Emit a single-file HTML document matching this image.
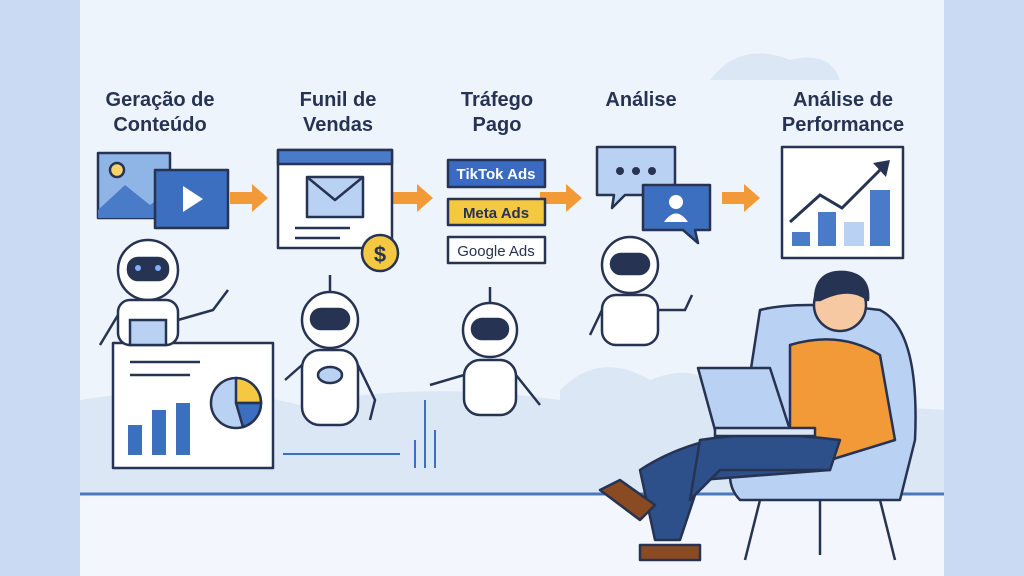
<!DOCTYPE html>
<html><head><meta charset="utf-8"><style>
html,body{margin:0;padding:0;width:1024px;height:576px;overflow:hidden;background:#eef4fc}
svg{display:block}
text{font-family:"Liberation Sans",sans-serif;font-weight:bold;fill:#263352}
</style></head><body>
<svg width="1024" height="576" viewBox="0 0 1024 576" xmlns="http://www.w3.org/2000/svg">
<rect width="1024" height="576" fill="#eef4fc"/>
<rect x="0" y="0" width="80" height="576" fill="#c9daf2"/>
<rect x="944" y="0" width="80" height="576" fill="#c9daf2"/>
<!-- clouds/background -->
<path d="M80 400 Q200 380 300 405 Q420 380 560 400 L560 493 L80 493Z" fill="#dce7f6"/>
<path d="M560 390 Q600 350 650 380 Q700 360 720 395 L944 410 L944 493 L560 493Z" fill="#dce7f6"/>
<path d="M710 80 Q740 40 790 60 Q830 50 840 80Z" fill="#dce7f6"/>
<rect x="80" y="493" width="864" height="83" fill="#f3f7fd"/>
<line x1="80" y1="494" x2="944" y2="494" stroke="#4a78c0" stroke-width="3"/>
<!-- titles -->
<g font-size="20" text-anchor="middle">
<text x="160" y="106">Geração de</text><text x="160" y="131">Conteúdo</text>
<text x="338" y="106">Funil de</text><text x="338" y="131">Vendas</text>
<text x="497" y="106">Tráfego</text><text x="497" y="131">Pago</text>
<text x="641" y="106">Análise</text>
<text x="843" y="106">Análise de</text><text x="843" y="131">Performance</text>
</g>
<!-- arrows -->
<g fill="#f29a38">
<path d="M230 192 H252 V184 L268 198 L252 212 V204 H230Z"/>
<path d="M393 192 H417 V184 L433 198 L417 212 V204 H393Z"/>
<path d="M540 192 H566 V184 L582 198 L566 212 V204 H540Z"/>
<path d="M722 192 H744 V184 L760 198 L744 212 V204 H722Z"/>
</g>
<g stroke="#263352" stroke-width="2.5" stroke-linejoin="round">
<!-- image icon -->
<rect x="98" y="153" width="72" height="65" fill="#8fb4e6"/>
<circle cx="117" cy="170" r="7" fill="#f5d36a"/>
<path d="M98 210 L125 185 L150 205 L170 190 V218 H98Z" fill="#4a7bc8" stroke="none"/>
<rect x="155" y="170" width="73" height="58" fill="#3d6fc0"/>
<path d="M183 186 L203 199 L183 212Z" fill="#fff" stroke="none"/>
<!-- browser -->
<rect x="278" y="150" width="114" height="98" fill="#fff"/>
<rect x="278" y="150" width="114" height="14" fill="#4a7bc8"/>
<rect x="307" y="177" width="56" height="40" fill="#b9d1f2"/>
<path d="M307 177 L335 200 L363 177" fill="none"/>
<line x1="295" y1="228" x2="350" y2="228"/><line x1="295" y1="238" x2="340" y2="238"/>
<circle cx="380" cy="253" r="18" fill="#f5c842"/>
<!-- ads -->
<rect x="448" y="160" width="97" height="27" fill="#3a6bc0"/>
<rect x="448" y="199" width="97" height="26" fill="#f5c842"/>
<rect x="448" y="237" width="97" height="26" fill="#fff"/>
<!-- chat -->
<path d="M597 147 H675 V195 H625 L612 208 L614 195 H597Z" fill="#b9d1f2"/>
<path d="M643 185 H710 V230 H695 L698 243 L683 230 H643Z" fill="#3d6fc0"/>
<!-- chart -->
<rect x="782" y="147" width="121" height="111" fill="#fff"/>
<!-- board -->
<rect x="113" y="343" width="160" height="125" fill="#fff"/>
<circle cx="236" cy="403" r="25" fill="#b9d1f2"/>
<path d="M236 403 V378 A25 25 0 0 1 261 403Z" fill="#f5c842"/>
<path d="M236 403 H261 A25 25 0 0 1 243 427Z" fill="#3d6fc0"/>
<!-- chair -->
<path d="M760 310 Q800 300 880 310 Q920 330 915 440 L900 500 H740 Q720 480 740 440Z" fill="#b9d1f2"/>
<line x1="760" y1="500" x2="745" y2="560"/><line x1="880" y1="500" x2="895" y2="560"/><line x1="820" y1="500" x2="820" y2="555"/>
<!-- person -->
<path d="M790 345 Q840 330 880 355 L895 440 L830 460 L790 440Z" fill="#f29a38"/>
<circle cx="840" cy="305" r="26" fill="#f7c9a2"/>
<path d="M815 300 Q815 270 845 272 Q870 275 868 300 Q850 285 820 300Z" fill="#263352"/>
<path d="M640 470 Q700 430 800 430 L830 470 L700 480 L680 540 L655 540Z" fill="#2d4f8a"/>
<path d="M700 440 Q760 430 840 440 L830 470 L720 470 L690 500 Z" fill="#2d4f8a"/>
<path d="M620 480 L655 505 L640 520 L600 490Z" fill="#8a4a22"/>
<path d="M640 545 H700 V560 H640Z" fill="#8a4a22"/>
<path d="M698 368 H770 L790 430 H715Z" fill="#b9d1f2"/>
<rect x="715" y="428" width="100" height="8" fill="#dce7f6"/>
</g>
<!-- chart bars -->
<g fill="#4a7bc8"><rect x="792" y="232" width="18" height="14"/><rect x="818" y="212" width="18" height="34"/><rect x="870" y="190" width="20" height="56"/></g>
<rect x="844" y="222" width="20" height="24" fill="#b9d1f2"/>
<path d="M790 222 L820 195 L842 208 L885 165" fill="none" stroke="#263352" stroke-width="3"/>
<path d="M873 163 L890 160 L886 177Z" fill="#263352"/>
<!-- board bars -->
<g fill="#3d6fc0"><rect x="128" y="425" width="14" height="30"/><rect x="152" y="410" width="14" height="45"/><rect x="176" y="403" width="14" height="52"/></g>
<g stroke="#263352" stroke-width="2.5"><line x1="130" y1="362" x2="200" y2="362"/><line x1="130" y1="375" x2="190" y2="375"/></g>
<!-- text in ads -->
<g font-size="15" font-weight="normal" text-anchor="middle">
<text x="496" y="179" style="fill:#fff">TikTok Ads</text>
<text x="496" y="218">Meta Ads</text>
<text x="496" y="256" style="font-weight:normal">Google Ads</text>
</g>
<text x="380" y="262" font-size="22" text-anchor="middle">$</text>
<g fill="#263352"><circle cx="620" cy="171" r="4"/><circle cx="636" cy="171" r="4"/><circle cx="652" cy="171" r="4"/></g>
<circle cx="676" cy="202" r="7" fill="#fff"/><path d="M664 222 Q676 205 688 222Z" fill="#fff"/>
<!-- robots -->
<g stroke="#263352" stroke-width="2.5" fill="#fff">
<g transform="translate(148,270)"><circle cx="0" cy="0" r="30"/><rect x="-20" y="-12" width="40" height="22" rx="10" fill="#263352"/><rect x="-30" y="30" width="60" height="45" rx="12"/><rect x="-18" y="50" width="36" height="25" fill="#b9d1f2"/><path d="M30 50 L65 40 L80 20" fill="none"/><path d="M-30 45 L-48 75" fill="none"/></g>
<g transform="translate(330,320)"><circle cx="0" cy="0" r="28"/><rect x="-19" y="-11" width="38" height="20" rx="10" fill="#263352"/><line x1="0" y1="-28" x2="0" y2="-45"/><rect x="-28" y="30" width="56" height="75" rx="18"/><ellipse cx="0" cy="55" rx="12" ry="8" fill="#b9d1f2"/><path d="M-28 45 L-45 60 M28 45 L45 80 L40 100" fill="none"/></g>
<g transform="translate(490,330)"><circle cx="0" cy="0" r="27"/><rect x="-18" y="-11" width="36" height="20" rx="10" fill="#263352"/><line x1="0" y1="-27" x2="0" y2="-43"/><rect x="-26" y="30" width="52" height="55" rx="16"/><path d="M-26 45 L-60 55 M26 45 L50 75" fill="none"/></g>
<g transform="translate(630,265)"><circle cx="0" cy="0" r="28"/><rect x="-19" y="-11" width="38" height="20" rx="10" fill="#263352"/><rect x="-28" y="30" width="56" height="50" rx="14"/><path d="M28 45 L55 45 L62 30 M-28 45 L-40 70" fill="none"/></g>
</g>
<g fill="#7fb0ff"><rect x="135" y="265" width="6" height="6" rx="3"/><rect x="155" y="265" width="6" height="6" rx="3"/></g>
<g stroke="#3d6fc0" stroke-width="2"><line x1="283" y1="454" x2="400" y2="454"/><line x1="415" y1="440" x2="415" y2="468"/><line x1="425" y1="400" x2="425" y2="468"/><line x1="435" y1="430" x2="435" y2="468"/></g>
</svg>
</body></html>
